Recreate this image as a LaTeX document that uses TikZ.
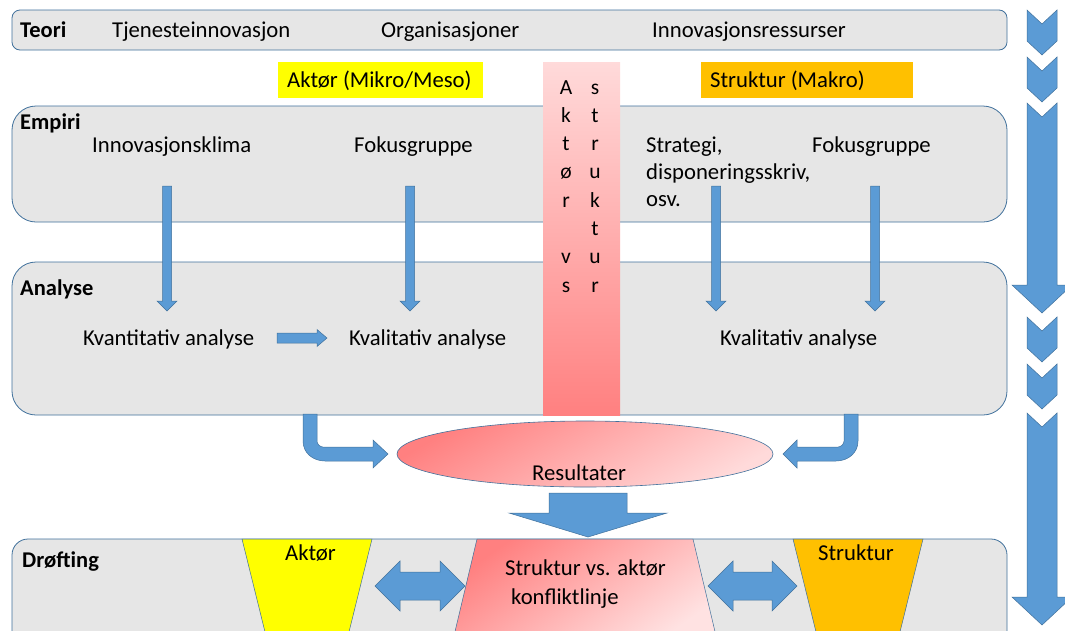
\documentclass[tikz,border=0pt]{standalone}
\usepackage{fontspec}
\setmainfont{Carlito}
\usetikzlibrary{shapes.geometric}

\definecolor{panelgray}{HTML}{E6E6E6}
\definecolor{panelline}{HTML}{41719C}
\definecolor{flowblue}{HTML}{5B9BD5}
\definecolor{rosedark}{HTML}{FF8080}
\definecolor{roselight}{HTML}{FFDADA}
\definecolor{rosepale}{HTML}{FFE2E2}
\definecolor{actoryellow}{HTML}{FFFF00}
\definecolor{structorange}{HTML}{FFC000}

% straight block arrow pointing down: x, top, tip, half shaft, half head, head length
\newcommand\downblock[6]{%
  \filldraw[flowarrow] ({#1-#4},#2) -- ({#1+#4},#2) -- ({#1+#4},{#3-#6})
    -- ({#1+#5},{#3-#6}) -- (#1,#3) -- ({#1-#5},{#3-#6}) -- ({#1-#4},{#3-#6}) -- cycle;}
% notched chevron of the process column: x, top
\newcommand\chevronblock[2]{%
  \filldraw[flowarrow] ({#1-15},#2) -- (#1,{#2+14}) -- ({#1+15},#2) -- ({#1+15},{#2+31})
    -- (#1,{#2+45}) -- ({#1-15},{#2+31}) -- cycle;}
% notched long arrow of the process column: x, top, head base, tip
\newcommand\longblock[4]{%
  \filldraw[flowarrow] ({#1-15},#2) -- (#1,{#2+14}) -- ({#1+15},#2) -- ({#1+15},#3)
    -- ({#1+30},#3) -- (#1,#4) -- ({#1-30},#3) -- ({#1-15},#3) -- cycle;}

\begin{document}
\begin{tikzpicture}[x=1pt,y=-1pt,
  txt/.style={font=\fontsize{22.7}{27}\selectfont, inner sep=0pt, anchor=base west},
  hdr/.style={font=\fontsize{22.5}{27}\selectfont\bfseries, inner sep=0pt, anchor=base west},
  letter/.style={font=\fontsize{21.5}{25}\selectfont, inner sep=0pt, anchor=base},
  panel/.style={fill=panelgray, draw=panelline, line width=0.8pt},
  flowarrow/.style={fill=flowblue, draw=panelline, line width=0.5pt},
  trap/.style={draw=panelline, line width=0.5pt}]

\useasboundingbox (0,0) rectangle (1065,630);
\clip (0,0) rectangle (1065,630);
\fill[white] (0,0) rectangle (1065,630);

% ---- panels
\draw[panel, rounded corners=8pt] (12,10) rectangle (1007,50);
\draw[panel, rounded corners=24pt] (12,106) rectangle (1007,222);
\draw[panel, rounded corners=24pt] (12,262) rectangle (1007,415);
\draw[panel, rounded corners=16pt] (12,539) rectangle (1007,650);

% ---- theory row
\node[hdr] (teori) at (20,37) {Teori};
\node[txt] (tjen) at (112,37) {Tjenesteinnovasjon};
\node[txt] (org) at (381,37) {Organisasjoner};
\node[txt] (ress) at (652,37) {Innovasjonsressurser};

% ---- perspective labels
\fill[actoryellow] (278,62) rectangle (483,98);
\node[txt] (aktorlvl) at (287,87) {Aktør (Mikro/Meso)};
\fill[structorange] (701,62) rectangle (913,98);
\node[txt] (strukturlvl) at (710,87) {Struktur (Makro)};

% ---- empirical sources
\node[hdr] (empiri) at (20,129) {Empiri};
\node[txt] (klima) at (92,152) {Innovasjonsklima};
\node[txt] (fokusA) at (354,152) {Fokusgruppe};
\node[txt] (strat1) at (646,152) {Strategi,};
\node[txt] (strat2) at (646,179) {disponeringsskriv,};
\node[txt] (strat3) at (646,206) {osv.};
\node[txt] (fokusS) at (812,152) {Fokusgruppe};

% ---- analysis
\node[hdr] (analyse) at (20,295) {Analyse};
\node[txt] (kvant) at (83,345) {Kvantitativ analyse};
\node[txt] (kvalA) at (349,345) {Kvalitativ analyse};
\node[txt] (kvalS) at (720,345) {Kvalitativ analyse};

% ---- central actor vs. structure band
\path[top color=roselight, bottom color=rosedark] (543,62) rectangle (620,415);
\foreach \ch [count=\i from 0] in {A,k,t,ø,r,{},v,s}
  \node[letter] (left\i) at (566,{94+28.3*\i}) {\ch};
\foreach \ch [count=\i from 0] in {s,t,r,u,k,t,u,r}
  \node[letter] (right\i) at (595,{94+28.3*\i}) {\ch};

% ---- flows from sources to analyses
\downblock{167}{186}{311}{4.5}{10}{10}
\downblock{410}{186}{311}{4.5}{10}{10}
\downblock{716}{186}{311}{4.5}{10}{10}
\downblock{875}{186}{311}{4.5}{10}{10}
\filldraw[flowarrow] (277,333) -- (317,333) -- (317,329.5) -- (327,338) -- (317,346.5)
  -- (317,343) -- (277,343) -- cycle;

% ---- results
\node[ellipse, draw=panelline, line width=0.6pt, minimum width=376pt, minimum height=66pt,
  inner sep=0pt, top color=rosedark, bottom color=roselight, shading angle=30] (res) at (585,454) {};
\node[txt] (restext) at (532,480) {Resultater};

\filldraw[flowarrow] (317,414) -- (303,414) -- (303,441) .. controls (303,453) and (313,461) .. (325,461)
  -- (373,461) -- (373,468) -- (388,454) -- (373,440) -- (373,447) -- (323,447)
  .. controls (320,447) and (317,444) .. (317,441) -- cycle;
\filldraw[flowarrow] (844,414) -- (858,414) -- (858,441) .. controls (858,453) and (848,461) .. (836,461)
  -- (797,461) -- (797,468) -- (783,454) -- (797,440) -- (797,447) -- (838,447)
  .. controls (841,447) and (844,444) .. (844,441) -- cycle;

\downblock{588}{493}{537}{39}{79}{24}

% ---- discussion
\node[hdr] (drofting) at (22,567) {Drøfting};
\path[trap, fill=actoryellow] (242,539) -- (372,539) -- (347,640) -- (267,640) -- cycle;
\node[txt] (aktor) at (285,560) {Aktør};
\path[trap, top color=rosedark, bottom color=rosepale, shading angle=35]
  (477,539) -- (693,539) -- (717,640) -- (453,640) -- cycle;
\node[txt] (konf1) at (505,575) {Struktur vs. aktør};
\node[txt] (konf2) at (511,604) {konfliktlinje};
\path[trap, fill=structorange] (793,539) -- (923,539) -- (898,640) -- (818,640) -- cycle;
\node[txt] (struktur) at (818,560) {Struktur};

\filldraw[flowarrow] (375,586) -- (400,561) -- (400,572) -- (440,572) -- (440,561) -- (465,586)
  -- (440,611) -- (440,600) -- (400,600) -- (400,611) -- cycle;
\filldraw[flowarrow] (708,586) -- (733,561) -- (733,572) -- (772,572) -- (772,561) -- (797,586)
  -- (772,611) -- (772,600) -- (733,600) -- (733,611) -- cycle;

% ---- process column
\chevronblock{1042}{10}
\chevronblock{1042}{57}
\longblock{1042}{103}{285}{313}
\chevronblock{1042}{317}
\chevronblock{1042}{364}
\longblock{1042}{413}{597}{625}
\end{tikzpicture}
\end{document}
